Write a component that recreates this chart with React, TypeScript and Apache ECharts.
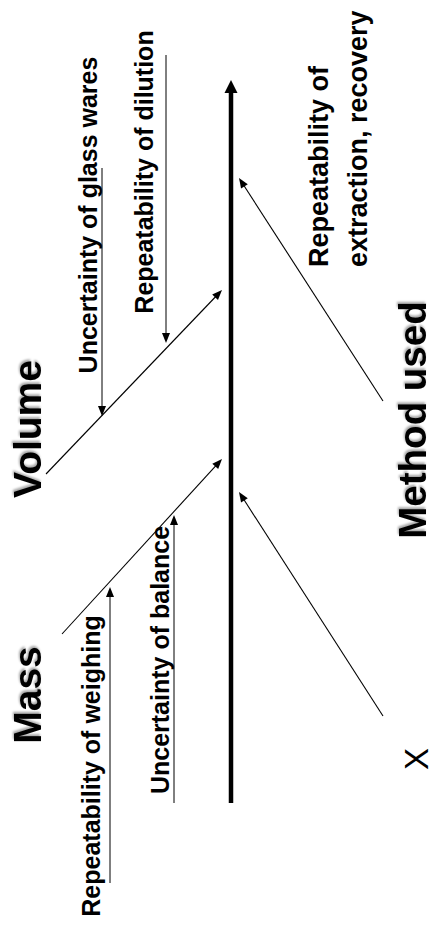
import React, { useEffect, useRef } from "react";
import * as echarts from "echarts";

// ---- Diagram data (fishbone / cause-and-effect, drawn in page units) ----
// Main spine: [xFrom, yFrom, xTo, yTo]
const spine: number[][] = [[231, 803, 231, 80]];

// Main cause bones, each pointing onto the spine
const causeNames: string[] = ["Mass", "Volume", "Method used", "Method used"];
const causeBones: number[][] = [
  [62, 634, 222, 459],
  [46, 474, 222, 290],
  [383, 401, 239, 178],
  [383, 716, 239, 492],
];

// Sub-cause arrows, each pointing onto a cause bone
const subCauseNames: string[] = [
  "Uncertainty of glass wares",
  "Repeatability of dilution",
  "Repeatability of weighing",
  "Uncertainty of balance",
];
const subCauseArrows: number[][] = [
  [102, 168, 102, 416],
  [166, 55, 166, 343],
  [110, 883, 110, 587],
  [174, 803, 174, 515],
];

const methodNote = "Repeatability of\nextraction, recovery";
const crossMark = "X";

const FONT = "'Liberation Sans', Arial, Helvetica, sans-serif";

function arrowSeries(
  name: string,
  data: number[][],
  lineWidth: number,
  headLen: number,
  headW: number
): any {
  return {
    type: "custom",
    name,
    coordinateSystem: "cartesian2d",
    encode: { x: [0, 2], y: [1, 3] },
    data,
    silent: true,
    clip: false,
    renderItem: (params: any, api: any) => {
      const p1 = api.coord([api.value(0), api.value(1)]);
      const p2 = api.coord([api.value(2), api.value(3)]);
      const dx = p2[0] - p1[0];
      const dy = p2[1] - p1[1];
      const len = Math.hypot(dx, dy) || 1;
      const ux = dx / len;
      const uy = dy / len;
      const bx = p2[0] - ux * headLen;
      const by = p2[1] - uy * headLen;
      const nx = -uy;
      const ny = ux;
      return {
        type: "group",
        children: [
          {
            type: "line",
            shape: { x1: p1[0], y1: p1[1], x2: bx + ux * 1, y2: by + uy * 1 },
            style: { stroke: "#000", lineWidth },
          },
          {
            type: "polygon",
            shape: {
              points: [
                [p2[0], p2[1]],
                [bx + (nx * headW) / 2, by + (ny * headW) / 2],
                [bx - (nx * headW) / 2, by - (ny * headW) / 2],
              ],
            },
            style: { fill: "#000" },
          },
        ],
      };
    },
  };
}

function vText(
  text: string,
  x: number,
  y: number,
  fontSize: number,
  opts: any = {}
): any {
  const align = opts.align || "center";
  return {
    type: "text",
    x,
    y,
    rotation: Math.PI / 2,
    silent: true,
    style: {
      text,
      fontSize,
      fontFamily: FONT,
      fontWeight: opts.weight || "bold",
      fill: "#000",
      align,
      textAlign: align,
      verticalAlign: "middle",
      textVerticalAlign: "middle",
      lineHeight: opts.lineHeight,
      ...(opts.shadow
        ? {
            textShadowColor: "rgba(0,0,0,0.35)",
            textShadowBlur: 2,
            textShadowOffsetX: 2,
            textShadowOffsetY: -1,
          }
        : {}),
    },
  };
}

export default function App() {
  const ref = useRef<HTMLDivElement>(null);
  useEffect(() => {
    document.body.style.margin = "0";
    if (!ref.current) return;
    const chart = echarts.init(ref.current, null, { renderer: "svg" });
    chart.setOption({
      animation: false,
      backgroundColor: "#fff",
      grid: { left: 0, right: 0, top: 0, bottom: 0 },
      xAxis: { type: "value", min: 0, max: 433, show: false },
      yAxis: { type: "value", min: 0, max: 937, inverse: true, show: false },
      series: [
        arrowSeries("Spine", spine, 4.5, 13, 13),
        arrowSeries("Causes", causeBones, 1.1, 10, 8),
        arrowSeries("Sub-causes", subCauseArrows, 1, 10, 8),
      ],
      graphic: [
        vText(causeNames[0], 27, 695, 39, { shadow: true }),
        vText(causeNames[1], 27, 429, 39, { shadow: true }),
        vText(causeNames[2], 412, 420, 38.5, { shadow: true }),
        vText(subCauseNames[0], 88, 215, 25),
        vText(subCauseNames[1], 144, 172, 25),
        vText(subCauseNames[2], 91, 766, 25),
        vText(subCauseNames[3], 160, 660, 25),
        vText(methodNote, 338, 267, 27, { align: "left", lineHeight: 39 }),
        vText(crossMark, 416, 759, 33, { weight: "normal" }),
      ],
    });
    return () => chart.dispose();
  }, []);
  return (
    <div
      ref={ref}
      style={{ position: "absolute", left: 0, top: 0, width: 433, height: 937 }}
    />
  );
}
